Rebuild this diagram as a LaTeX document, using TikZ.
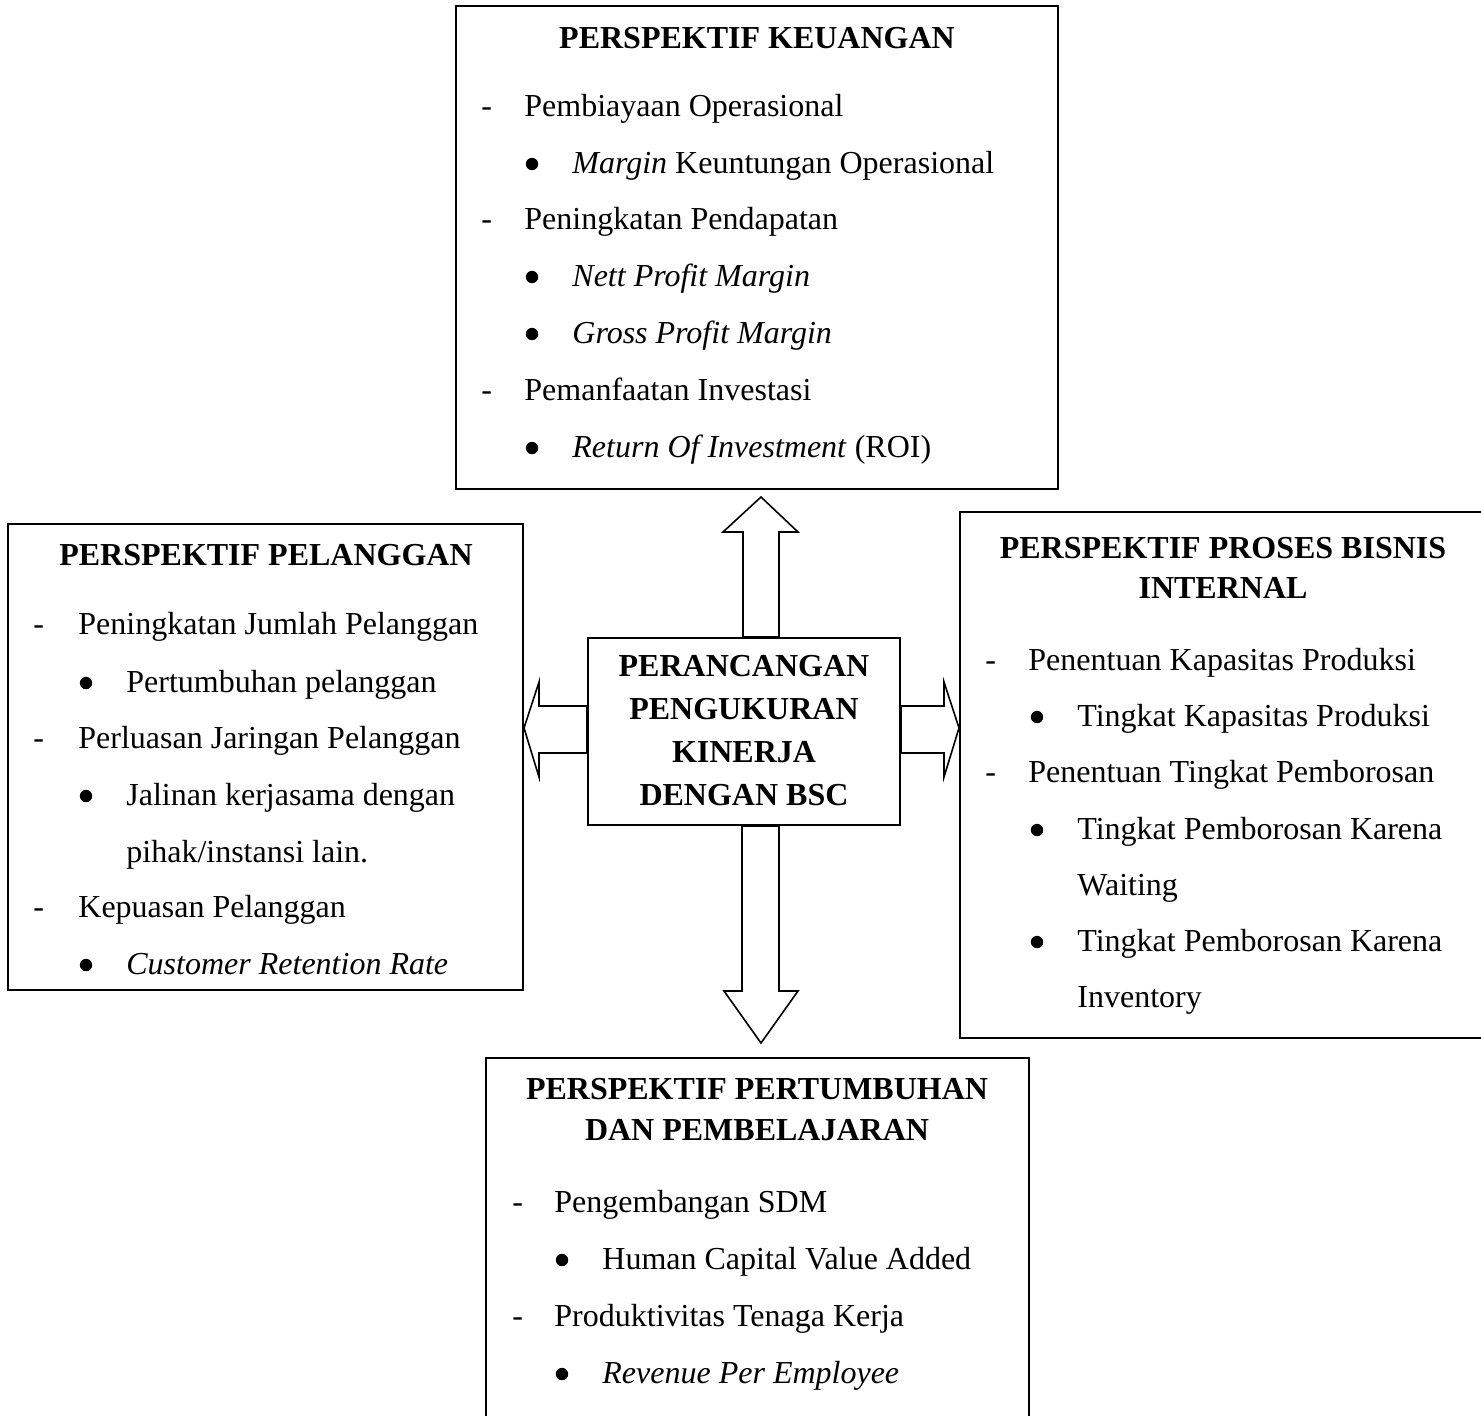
\documentclass[tikz,border=0pt]{standalone}
\usepackage{fontspec}
\setmainfont{Liberation Serif}
\usetikzlibrary{fit}

% list lines: a dash item and a bullet item (name, marker x, text x, baseline y, text)
\newcommand\kdash[5]{\node[txt] (#1-m) at (#2,#4) {-}; \node[txt] (#1) at (#3,#4) {#5};}
\newcommand\kbul[5]{\node[dot] (#1-m) at (#2,#4-9) {}; \node[txt] (#1) at (#3,#4) {#5};}

\begin{document}
\begin{tikzpicture}[x=0.5pt,y=-0.5pt,line join=miter,
  box/.style={draw,line width=1pt,inner sep=0pt},
  ttl/.style={font=\fontsize{16}{19}\selectfont\bfseries,anchor=base,inner sep=0pt},
  txt/.style={font=\fontsize{16}{19}\selectfont,anchor=base west,inner sep=0pt},
  dot/.style={circle,fill,inner sep=0pt,minimum size=6.2pt},
  blockarrow/.style={draw,line width=0.8pt,fill=white}]
\useasboundingbox (0,0) rectangle (1481,1415);
\clip (0,0) rectangle (1481,1415);

% perspective boxes
\node[box,fit={(456,6)(1058,489)}] (keu) {};
\node[box,fit={(8,524)(523,990)}] (pel) {};
\node[box,fit={(960,512)(1484,1038)}] (pro) {};
\node[box,fit={(486,1058)(1029,1440)}] (tum) {};
\node[box,fit={(588,638)(900,825)}] (cen) {};

% centre
\node[ttl] (c1) at (744,676) {PERANCANGAN};
\node[ttl] (c2) at (744,719) {PENGUKURAN};
\node[ttl] (c3) at (744,762) {KINERJA};
\node[ttl] (c4) at (744,805) {DENGAN BSC};

% block arrows from the centre box
\draw[blockarrow] (cen.north -| 743,0) -- (743,532) -- (723,532) -- (761,497)
  -- (798,532) -- (779,532) -- (cen.north -| 779,0) -- cycle;
\draw[blockarrow] (cen.west |- 0,706) -- (539,706) -- (539,682) -- (pel.east |- 0,728)
  -- (539,777) -- (539,753) -- (cen.west |- 0,753) -- cycle;
\draw[blockarrow] (cen.east |- 0,706) -- (944,706) -- (944,682) -- (pro.west |- 0,728)
  -- (944,777) -- (944,753) -- (cen.east |- 0,753) -- cycle;
\draw[blockarrow] (cen.south -| 742,0) -- (742,991) -- (724,991) -- (761,1043)
  -- (798,991) -- (779,991) -- (cen.south -| 779,0) -- cycle;
\node[box,fit={(588,638)(900,825)}] (cenframe) {};

% keuangan
\node[ttl] (keu-t) at (757,48) {PERSPEKTIF KEUANGAN};
\kdash{k1}{481}{524}{116}{Pembiayaan Operasional}
\kbul{k2}{532}{572}{173}{\textit{Margin} Keuntungan Operasional}
\kdash{k3}{481}{524}{229}{Peningkatan Pendapatan}
\kbul{k4}{532}{572}{286}{\textit{Nett Profit Margin}}
\kbul{k5}{532}{572}{343}{\textit{Gross Profit Margin}}
\kdash{k6}{481}{524}{400}{Pemanfaatan Investasi}
\kbul{k7}{532}{572}{457}{\textit{Return Of Investment} (ROI)}

% pelanggan
\node[ttl] (pel-t) at (266,565) {PERSPEKTIF PELANGGAN};
\kdash{p1}{33}{78}{634}{Peningkatan Jumlah Pelanggan}
\kbul{p2}{86}{126}{692}{Pertumbuhan pelanggan}
\kdash{p3}{33}{78}{748}{Perluasan Jaringan Pelanggan}
\kbul{p4}{86}{126}{805}{Jalinan kerjasama dengan}
\node[txt] (p4b) at (126,862) {pihak/instansi lain.};
\kdash{p5}{33}{78}{917}{Kepuasan Pelanggan}
\kbul{p6}{86}{126}{974}{\textit{Customer Retention Rate}}

% proses bisnis internal
\node[ttl] (pro-t1) at (1223,558) {PERSPEKTIF PROSES BISNIS};
\node[ttl] (pro-t2) at (1223,598) {INTERNAL};
\kdash{r1}{985}{1028}{670}{Penentuan Kapasitas Produksi}
\kbul{r2}{1037}{1077}{726}{Tingkat Kapasitas Produksi}
\kdash{r3}{985}{1028}{782}{Penentuan Tingkat Pemborosan}
\kbul{r4}{1037}{1077}{839}{Tingkat Pemborosan Karena}
\node[txt] (r4b) at (1077,895) {Waiting};
\kbul{r5}{1037}{1077}{951}{Tingkat Pemborosan Karena}
\node[txt] (r5b) at (1077,1007) {Inventory};

% pertumbuhan dan pembelajaran
\node[ttl] (tum-t1) at (757,1099) {PERSPEKTIF PERTUMBUHAN};
\node[ttl] (tum-t2) at (757,1140) {DAN PEMBELAJARAN};
\kdash{t1}{512}{554}{1212}{Pengembangan SDM}
\kbul{t2}{562}{602}{1269}{Human Capital Value Added}
\kdash{t3}{512}{554}{1326}{Produktivitas Tenaga Kerja}
\kbul{t4}{562}{602}{1383}{\textit{Revenue Per Employee}}
\end{tikzpicture}
\end{document}
